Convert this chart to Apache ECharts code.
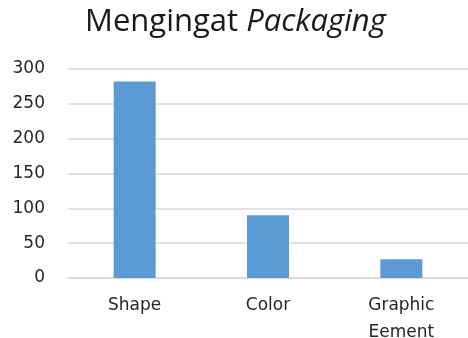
<!DOCTYPE html>
<html>
<head>
<meta charset="utf-8">
<script src="https://cdn.jsdelivr.net/npm/echarts@6/dist/echarts.min.js"></script>
<style>html,body{margin:0;padding:0;background:#fff;}#c{width:468px;height:338px;}</style>
</head>
<body>
<div id="c"></div>
<script>
const categories = ['Shape', 'Color', 'Graphic\nEement'];
const values = [282, 90, 27];
const yTicks = { min: 0, max: 300, interval: 50 };

const chart = echarts.init(document.getElementById('c'), null, { renderer: 'canvas' });
chart.setOption({
  animation: false,
  backgroundColor: '#ffffff',
  title: {
    text: '{n|Mengingat }{i|Packaging}',
    left: 85,
    top: 7,
    padding: 0,
    textStyle: {
      rich: {
        n: { fontFamily: 'Open Sans', fontSize: 31, fontWeight: 'normal', color: '#1a1a1a' },
        i: { fontFamily: 'Open Sans', fontSize: 31, fontWeight: 'normal', fontStyle: 'italic', color: '#1a1a1a' }
      }
    }
  },
  grid: { left: 68, right: 0, top: 69, bottom: 60, containLabel: false, outerBoundsMode: 'none' },
  xAxis: {
    type: 'category',
    data: categories,
    axisLine: { lineStyle: { color: '#d9d9d9', width: 1.5 } },
    axisTick: { show: false },
    axisLabel: {
      fontFamily: 'DejaVu Sans', fontSize: 17, color: '#262626',
      lineHeight: 27, margin: 14, interval: 0
    }
  },
  yAxis: {
    type: 'value',
    min: yTicks.min, max: yTicks.max, interval: yTicks.interval,
    axisLine: { show: false },
    axisTick: { show: false },
    splitLine: { lineStyle: { color: '#d9d9d9', width: 1.5 } },
    axisLabel: { fontFamily: 'DejaVu Sans', fontSize: 17, color: '#262626', margin: 23 }
  },
  series: [{
    type: 'bar',
    data: values,
    barWidth: 42,
    itemStyle: { color: '#5b9bd5' }
  }]
});
</script>
</body>
</html>
